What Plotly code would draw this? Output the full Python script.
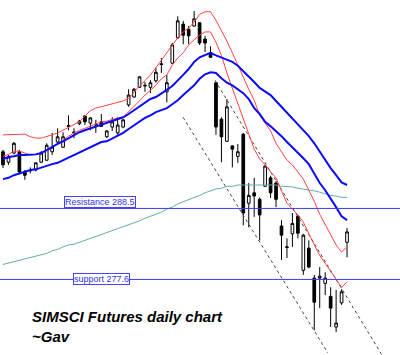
import plotly.graph_objects as go

# ---- data (price units) ----
day = list(range(64))

open_ = [297.2,295.6,297.0,297.2,294.1,294.4,294.4,295.6,295.9,297.2,298.7,297.9,301.1,300.1,301.5,302.7,
         301.6,301.3,301.8,299.5,301.0,300.1,301.0,304.4,305.6,307.1,307.3,307.1,308.1,310.7,306.4,310.8,
         314.7,316.8,316.0,316.5,317.0,314.5,312.4,307.8,302.2,298.8,298.1,296.5,299.9,289.3,290.9,289.9,
         291.9,293.2,292.4,285.8,282.5,284.6,287.3,279.0,282.4,277.8,277.8,277.0,275.0,270.3,274.0,283.3]
high = [297.5,296.7,298.7,297.5,294.4,294.8,295.6,297.3,298.5,300.1,300.8,300.2,302.8,300.8,302.1,302.8,
        302.5,302.1,303.0,300.5,302.5,302.5,302.2,306.8,307.0,308.8,307.9,308.2,310.1,311.6,309.0,313.9,
        318.0,317.3,316.5,318.8,317.1,315.0,313.4,307.9,302.5,305.3,298.2,298.4,300.1,292.4,293.2,290.2,
        295.2,293.5,292.7,286.7,283.9,287.8,287.5,284.6,283.6,278.3,279.5,278.7,276.4,276.0,276.1,285.5]
low = [294.7,295.2,296.8,293.9,292.9,293.9,294.2,295.5,295.8,296.7,298.5,297.8,300.5,299.3,301.3,301.3,
       300.5,300.1,301.0,299.3,300.4,299.8,300.8,304.1,305.5,307.0,306.4,306.2,307.8,309.3,304.8,310.7,
       314.5,313.7,313.7,316.4,313.6,312.5,311.6,299.8,295.6,298.7,294.8,295.5,285.9,285.6,287.2,283.6,
       291.8,290.1,288.7,280.6,280.9,282.6,283.9,278.3,279.3,269.8,273.2,275.2,270.3,269.5,273.7,281.0]
close = [295.2,296.4,298.5,294.1,293.6,294.3,295.5,297.0,298.2,297.9,299.5,299.5,301.2,300.2,301.9,301.8,
         302.4,301.4,301.1,300.4,301.8,301.3,302.1,305.9,306.8,308.7,307.4,307.8,309.4,310.6,307.8,313.6,
         317.3,315.1,315.0,317.6,313.9,313.9,311.7,301.0,299.5,304.1,297.6,297.2,287.8,290.5,290.4,287.5,
         295.0,290.9,289.9,284.4,282.6,286.2,284.7,284.4,279.5,274.1,278.1,277.8,273.2,270.9,275.7,284.9]

red_upper = [299.8,299.8,299.8,299.9,299.9,299.5,299.3,299.3,299.5,299.8,300.1,300.5,301.0,301.3,301.8,302.7,
             303.5,303.9,304.1,304.4,304.5,304.7,305.0,305.4,306.4,307.3,308.1,309.0,310.1,311.3,312.5,313.7,
             314.7,315.6,316.2,317.1,318.3,318.7,318.7,317.4,315.9,314.2,312.4,310.5,308.8,306.8,305.1,302.8,
             301.6,300.4,298.5,297.2,295.9,295.2,294.1,293.0,291.3,289.6,287.6,286.1,284.6,282.9,281.8,282.6]
red_lower = [296.5,296.8,297.3,297.3,297.0,296.7,296.8,297.0,297.3,297.9,298.4,299.0,299.6,300.1,300.5,300.8,
             301.1,301.5,301.8,301.9,302.2,302.4,302.5,303.3,304.2,305.0,305.9,306.7,307.4,308.4,309.0,310.5,
             311.6,312.4,313.6,314.4,315.1,315.6,315.6,314.0,312.0,309.3,307.0,304.7,302.1,299.8,297.6,296.1,
             295.2,294.1,293.2,291.2,289.3,288.4,287.5,286.4,284.6,282.9,281.3,280.1,278.9,277.6,276.4,277.2]
blue_upper = [296.1,296.4,296.5,296.7,296.7,296.7,296.8,297.0,297.5,297.9,298.4,298.8,299.3,299.8,300.2,300.5,
              300.8,301.1,301.3,301.6,301.9,302.2,302.5,303.0,303.6,304.2,304.7,305.3,305.6,306.1,306.7,307.3,
              308.1,309.0,309.9,311.0,311.7,312.0,312.4,312.0,311.7,311.3,311.0,310.4,309.6,308.7,307.9,307.0,
              306.4,305.9,305.0,304.1,303.1,302.2,301.3,300.5,299.6,298.5,297.2,295.9,294.7,293.6,292.5,292.1]
blue_lower = [293.0,293.2,293.6,293.9,294.2,294.4,294.5,294.8,295.0,295.3,295.5,295.9,296.4,296.7,297.2,297.5,
              297.9,298.4,298.7,298.8,299.2,299.6,300.1,300.7,301.3,301.9,302.4,302.8,303.3,303.6,303.9,304.5,
              305.1,305.9,306.7,307.4,308.4,309.1,309.4,309.3,308.5,307.8,307.4,306.8,306.2,305.3,303.9,303.0,
              301.8,301.1,300.4,299.6,298.7,297.9,297.0,296.2,295.3,293.9,292.4,291.3,290.1,288.7,287.3,286.7]
teal_ma = [279.9,280.1,280.3,280.6,280.7,280.9,281.2,281.3,281.6,282.0,282.2,282.6,282.9,283.0,283.3,283.6,
           283.9,284.1,284.4,284.7,285.0,285.3,285.6,285.9,286.2,286.6,287.0,287.3,287.6,287.9,288.4,288.7,
           289.2,289.5,289.8,290.2,290.5,290.9,291.2,291.5,291.6,291.9,291.9,292.1,292.1,292.1,292.1,292.1,
           292.1,292.1,292.1,291.9,291.9,291.8,291.6,291.5,291.3,291.2,291.0,290.7,290.5,290.4,290.2,290.2]

channel_lower_x = [32.97, 59.5]
channel_lower_y = [302.5, 266.3]
channel_upper_x = [38.8, 69.4]
channel_upper_y = [308.2, 266.0]

resistance = 288.5
support = 277.6
title_lines = ["SIMSCI Futures daily chart", "~Gav"]

fig = go.Figure()

fig.add_trace(go.Scatter(x=day, y=teal_ma, mode="lines", line=dict(color="#5fb0a6", width=1), hoverinfo="skip"))
for xs, ys in [(channel_lower_x, channel_lower_y), (channel_upper_x, channel_upper_y)]:
    fig.add_trace(go.Scatter(x=xs, y=ys, mode="lines", line=dict(color="#444444", width=1, dash="dot"), hoverinfo="skip"))

fig.add_trace(go.Candlestick(
    x=day, open=open_, high=high, low=low, close=close,
    increasing=dict(line=dict(color="#000000", width=1), fillcolor="#ffffff"),
    decreasing=dict(line=dict(color="#000000", width=1), fillcolor="#000000"),
    whiskerwidth=0,
))

for s in (red_upper, red_lower):
    fig.add_trace(go.Scatter(x=day, y=s, mode="lines", line=dict(color="#ff4444", width=1), hoverinfo="skip"))
for s in (blue_upper, blue_lower):
    fig.add_trace(go.Scatter(x=day, y=s, mode="lines", line=dict(color="#0a0aff", width=2), hoverinfo="skip"))

for lvl in (resistance, support):
    fig.add_shape(type="line", xref="paper", x0=0, x1=1, yref="y", y0=lvl, y1=lvl,
                  line=dict(color="#3c3cff", width=1))

fig.add_annotation(xref="paper", x=0.25, yref="y", y=resistance, yanchor="bottom", xanchor="center",
                   text=f"Resistance {resistance}", showarrow=False,
                   font=dict(family="Arial, Liberation Sans", size=9, color="#3333ee"),
                   bgcolor="#ffffff", bordercolor="#4444ff", borderwidth=1, borderpad=0)
fig.add_annotation(xref="paper", x=0.254, yref="y", y=support, yanchor="middle", xanchor="center",
                   text=f"support {support}", showarrow=False,
                   font=dict(family="Arial, Liberation Sans", size=9, color="#3333ee"),
                   bgcolor="#ffffff", bordercolor="#4444ff", borderwidth=1, borderpad=0)

fig.add_annotation(xref="paper", yref="paper", x=0.076, y=0.137, xanchor="left", yanchor="top", align="left",
                   text="<b><i>" + "<br>".join(title_lines) + "</i></b>", showarrow=False,
                   font=dict(family="Arial, Liberation Sans", size=15, color="#000000"))

fig.update_layout(
    width=400, height=355, margin=dict(l=0, r=0, t=0, b=0),
    paper_bgcolor="#ffffff", plot_bgcolor="#ffffff", showlegend=False,
    xaxis=dict(range=[-0.55, 72.7], visible=False, rangeslider=dict(visible=False), showgrid=False),
    yaxis=dict(range=[266.0, 320.5], visible=False, showgrid=False),
)

fig.write_html("out.html")
